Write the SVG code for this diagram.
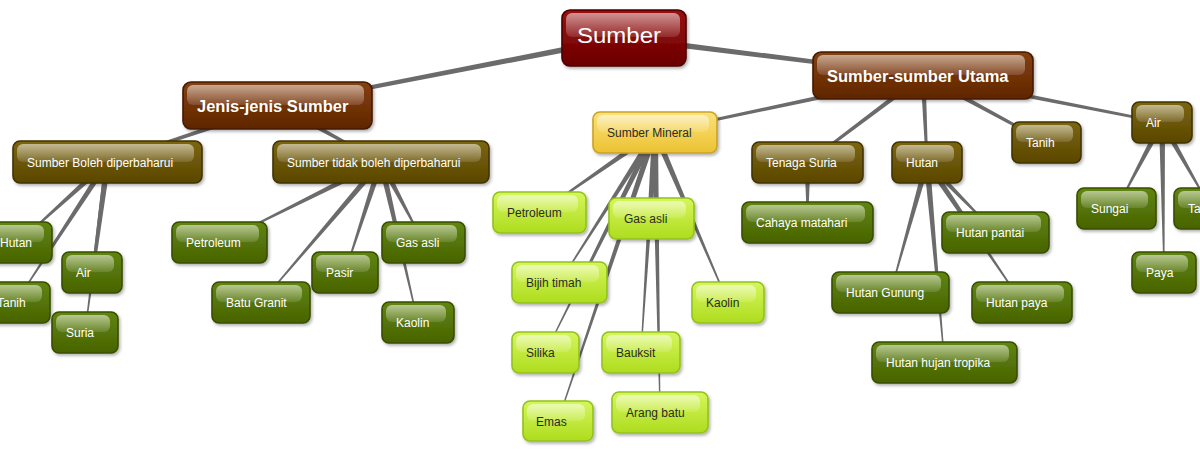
<svg xmlns="http://www.w3.org/2000/svg" width="1200" height="454" viewBox="0 0 1200 454">
<defs>
<linearGradient id="gRed" x1="0" y1="0" x2="0" y2="1"><stop offset="0" stop-color="#9a1010"/><stop offset="1" stop-color="#6a0000"/></linearGradient>
<linearGradient id="gBrown" x1="0" y1="0" x2="0" y2="1"><stop offset="0" stop-color="#86400e"/><stop offset="1" stop-color="#5f2600"/></linearGradient>
<linearGradient id="gOlive" x1="0" y1="0" x2="0" y2="1"><stop offset="0" stop-color="#7c6610"/><stop offset="1" stop-color="#5a4600"/></linearGradient>
<linearGradient id="gGreen" x1="0" y1="0" x2="0" y2="1"><stop offset="0" stop-color="#608512"/><stop offset="1" stop-color="#486300"/></linearGradient>
<linearGradient id="gLime" x1="0" y1="0" x2="0" y2="1"><stop offset="0" stop-color="#d6f65c"/><stop offset="1" stop-color="#aedc1e"/></linearGradient>
<linearGradient id="gYellow" x1="0" y1="0" x2="0" y2="1"><stop offset="0" stop-color="#fae27a"/><stop offset="1" stop-color="#ecc232"/></linearGradient>
<linearGradient id="gGloss" x1="0" y1="0" x2="0" y2="1"><stop offset="0" stop-color="#fff" stop-opacity="0.55"/><stop offset="1" stop-color="#fff" stop-opacity="0.12"/></linearGradient>
<filter id="sh" x="-10%" y="-20%" width="125%" height="150%"><feDropShadow dx="1.5" dy="2" stdDeviation="1.5" flood-color="#000" flood-opacity="0.3"/></filter>
</defs>
<style>
.node .b{stroke-width:1.6;filter:url(#sh)}
.node .g{fill:url(#gGloss)}
.node text{font-family:"Liberation Sans",Arial,sans-serif;font-size:12px;fill:#fff}
.red .b{fill:url(#gRed);stroke:#4a0000}
.brown .b{fill:url(#gBrown);stroke:#451a00}
.olive .b{fill:url(#gOlive);stroke:#423300}
.green .b{fill:url(#gGreen);stroke:#384d00}
.lime .b{fill:url(#gLime);stroke:#92c21a}
.yellow .b{fill:url(#gYellow);stroke:#c9a226}
.lime text,.yellow text{fill:#2a2a2a}
.big text{font-size:16.5px;font-weight:bold}
.top text{font-size:22px}
#connectors polygon{fill:#6b6b6b}
</style>
<rect width="1200" height="454" fill="#fff"/>
<g id="connectors">
<polygon points="623.4,35.1 277.2,103.8 277.8,107.2 624.6,40.9"/>
<polygon points="623.6,41.0 922.8,77.2 923.2,73.8 624.4,35.0"/>
<polygon points="276.7,103.1 107.1,160.8 107.9,163.2 278.3,107.9"/>
<polygon points="276.3,107.7 380.4,163.1 381.6,160.9 278.7,103.3"/>
<polygon points="922.5,73.1 654.7,131.3 655.3,133.7 923.5,77.9"/>
<polygon points="921.5,73.5 806.7,161.5 808.3,163.5 924.5,77.5"/>
<polygon points="920.5,75.6 925.8,162.6 928.2,162.4 925.5,75.4"/>
<polygon points="921.8,77.7 1045.9,143.6 1047.1,141.4 924.2,73.3"/>
<polygon points="922.5,78.0 1161.8,123.7 1162.2,121.3 923.5,73.0"/>
<polygon points="105.5,159.8 18.7,241.6 19.3,242.4 109.5,164.2"/>
<polygon points="105.0,160.4 15.6,301.7 16.4,302.3 110.0,163.6"/>
<polygon points="104.5,161.6 91.5,271.9 92.5,272.1 110.5,162.4"/>
<polygon points="104.5,161.6 84.5,331.9 85.5,332.1 110.5,162.4"/>
<polygon points="379.7,159.3 219.3,242.1 219.7,242.9 382.3,164.7"/>
<polygon points="378.7,160.1 260.6,302.2 261.4,302.8 383.3,163.9"/>
<polygon points="378.1,161.1 344.5,272.3 345.5,272.7 383.9,162.9"/>
<polygon points="378.3,163.4 423.1,242.7 423.9,242.3 383.7,160.6"/>
<polygon points="378.1,162.7 417.5,322.6 418.5,322.4 383.9,161.3"/>
<polygon points="653.3,130.0 539.2,212.1 539.8,212.9 656.7,135.0"/>
<polygon points="652.0,132.4 651.0,218.5 652.0,218.5 658.0,132.6"/>
<polygon points="652.5,130.9 559.1,282.2 559.9,282.8 657.5,134.1"/>
<polygon points="652.2,133.7 727.5,302.7 728.5,302.3 657.8,131.3"/>
<polygon points="652.3,131.2 545.1,352.3 545.9,352.7 657.7,133.8"/>
<polygon points="652.0,132.3 640.5,352.5 641.5,352.5 658.0,132.7"/>
<polygon points="652.2,131.5 557.5,420.8 558.5,421.2 657.8,133.5"/>
<polygon points="652.0,132.6 659.5,412.5 660.5,412.5 658.0,132.4"/>
<polygon points="804.5,162.5 807,222.5 808,222.5 810.5,162.5"/>
<polygon points="924.9,164.6 995.1,232.8 995.9,232.2 929.1,160.4"/>
<polygon points="924.1,161.7 890.0,292.4 891.0,292.6 929.9,163.3"/>
<polygon points="924.5,164.2 1021.6,302.8 1022.4,302.2 929.5,160.8"/>
<polygon points="924.0,162.8 944.0,362.5 945.0,362.5 930.0,162.2"/>
<polygon points="1159.3,121.1 1116.1,208.3 1116.9,208.7 1164.7,123.9"/>
<polygon points="1159.0,122.5 1163.5,272.5 1164.5,272.5 1165.0,122.5"/>
<polygon points="1159.4,124.0 1210.6,208.7 1211.4,208.3 1164.6,121.0"/>
</g>
<g id="n-sumber" class="node red top"><rect class="b" x="562" y="10" width="124" height="56" rx="8"/><rect class="g" x="566" y="13" width="114" height="24" rx="6"/><text x="577" y="43" textLength="84" lengthAdjust="spacingAndGlyphs">Sumber</text></g>
<g id="n-utama" class="node brown big"><rect class="b" x="813" y="52" width="220" height="47" rx="8"/><rect class="g" x="817" y="55" width="208" height="20" rx="6"/><text x="827" y="81.5">Sumber-sumber Utama</text></g>
<g id="n-jenis" class="node brown big"><rect class="b" x="183" y="82" width="189" height="47" rx="8"/><rect class="g" x="187" y="85" width="177" height="20" rx="6"/><text x="197" y="111.5">Jenis-jenis Sumber</text></g>
<g id="n-boleh" class="node olive"><rect class="b" x="13" y="141" width="189" height="42" rx="7"/><rect class="g" x="17" y="144" width="177" height="18" rx="6"/><text x="27" y="166.5">Sumber Boleh diperbaharui</text></g>
<g id="n-tidak" class="node olive"><rect class="b" x="273" y="141" width="216" height="42" rx="7"/><rect class="g" x="277" y="144" width="204" height="18" rx="6"/><text x="287" y="166.5">Sumber tidak boleh diperbaharui</text></g>
<g id="n-hutan1" class="node green"><rect class="b" x="-14" y="222" width="66" height="41" rx="7"/><rect class="g" x="-10" y="225" width="54" height="17" rx="6"/><text x="0" y="246.5">Hutan</text></g>
<g id="n-tanih1" class="node green"><rect class="b" x="-17" y="282" width="67" height="41" rx="7"/><rect class="g" x="-13" y="285" width="55" height="17" rx="6"/><text x="-3" y="306.5">Tanih</text></g>
<g id="n-air1" class="node green"><rect class="b" x="62" y="252" width="60" height="41" rx="7"/><rect class="g" x="66" y="255" width="48" height="17" rx="6"/><text x="76" y="276.5">Air</text></g>
<g id="n-suria" class="node green"><rect class="b" x="52" y="312" width="66" height="41" rx="7"/><rect class="g" x="56" y="315" width="54" height="17" rx="6"/><text x="66" y="336.5">Suria</text></g>
<g id="n-petroleum1" class="node green"><rect class="b" x="172" y="222" width="95" height="41" rx="7"/><rect class="g" x="176" y="225" width="83" height="17" rx="6"/><text x="186" y="246.5">Petroleum</text></g>
<g id="n-batu" class="node green"><rect class="b" x="212" y="282" width="98" height="41" rx="7"/><rect class="g" x="216" y="285" width="86" height="17" rx="6"/><text x="226" y="306.5">Batu Granit</text></g>
<g id="n-pasir" class="node green"><rect class="b" x="312" y="252" width="66" height="41" rx="7"/><rect class="g" x="316" y="255" width="54" height="17" rx="6"/><text x="326" y="276.5">Pasir</text></g>
<g id="n-gas1" class="node green"><rect class="b" x="382" y="222" width="83" height="41" rx="7"/><rect class="g" x="386" y="225" width="71" height="17" rx="6"/><text x="396" y="246.5">Gas asli</text></g>
<g id="n-kaolin1" class="node green"><rect class="b" x="382" y="302" width="72" height="41" rx="7"/><rect class="g" x="386" y="305" width="60" height="17" rx="6"/><text x="396" y="326.5">Kaolin</text></g>
<g id="n-mineral" class="node yellow"><rect class="b" x="593" y="112" width="124" height="41" rx="7"/><rect class="g" x="597" y="115" width="112" height="17" rx="6"/><text x="607" y="136.5">Sumber Mineral</text></g>
<g id="n-petroleum2" class="node lime"><rect class="b" x="493" y="192" width="93" height="41" rx="7"/><rect class="g" x="497" y="195" width="81" height="17" rx="6"/><text x="507" y="216.5">Petroleum</text></g>
<g id="n-gas2" class="node lime"><rect class="b" x="609" y="198" width="85" height="41" rx="7"/><rect class="g" x="613" y="201" width="73" height="17" rx="6"/><text x="624" y="222.5">Gas asli</text></g>
<g id="n-bijih" class="node lime"><rect class="b" x="512" y="262" width="95" height="41" rx="7"/><rect class="g" x="516" y="265" width="83" height="17" rx="6"/><text x="526" y="286.5">Bijih timah</text></g>
<g id="n-kaolin2" class="node lime"><rect class="b" x="692" y="282" width="72" height="41" rx="7"/><rect class="g" x="696" y="285" width="60" height="17" rx="6"/><text x="706" y="306.5">Kaolin</text></g>
<g id="n-silika" class="node lime"><rect class="b" x="512" y="332" width="67" height="41" rx="7"/><rect class="g" x="516" y="335" width="55" height="17" rx="6"/><text x="526" y="356.5">Silika</text></g>
<g id="n-bauksit" class="node lime"><rect class="b" x="602" y="332" width="78" height="41" rx="7"/><rect class="g" x="606" y="335" width="66" height="17" rx="6"/><text x="616" y="356.5">Bauksit</text></g>
<g id="n-emas" class="node lime"><rect class="b" x="523" y="401" width="70" height="40" rx="7"/><rect class="g" x="527" y="404" width="58" height="17" rx="6"/><text x="536" y="425.5">Emas</text></g>
<g id="n-arang" class="node lime"><rect class="b" x="612" y="392" width="96" height="41" rx="7"/><rect class="g" x="616" y="395" width="84" height="17" rx="6"/><text x="626" y="416.5">Arang batu</text></g>
<g id="n-tenaga" class="node olive"><rect class="b" x="752" y="142" width="111" height="41" rx="7"/><rect class="g" x="756" y="145" width="99" height="17" rx="6"/><text x="766" y="166.5">Tenaga Suria</text></g>
<g id="n-hutan2" class="node olive"><rect class="b" x="892" y="142" width="70" height="41" rx="7"/><rect class="g" x="896" y="145" width="58" height="17" rx="6"/><text x="906" y="166.5">Hutan</text></g>
<g id="n-tanih2" class="node olive"><rect class="b" x="1012" y="122" width="69" height="41" rx="7"/><rect class="g" x="1016" y="125" width="57" height="17" rx="6"/><text x="1026" y="146.5">Tanih</text></g>
<g id="n-air2" class="node olive"><rect class="b" x="1132" y="102" width="60" height="41" rx="7"/><rect class="g" x="1136" y="105" width="48" height="17" rx="6"/><text x="1146" y="126.5">Air</text></g>
<g id="n-cahaya" class="node green"><rect class="b" x="742" y="202" width="131" height="41" rx="7"/><rect class="g" x="746" y="205" width="119" height="17" rx="6"/><text x="756" y="226.5">Cahaya matahari</text></g>
<g id="n-pantai" class="node green"><rect class="b" x="942" y="212" width="107" height="41" rx="7"/><rect class="g" x="946" y="215" width="95" height="17" rx="6"/><text x="956" y="236.5">Hutan pantai</text></g>
<g id="n-gunung" class="node green"><rect class="b" x="832" y="272" width="117" height="41" rx="7"/><rect class="g" x="836" y="275" width="105" height="17" rx="6"/><text x="846" y="296.5">Hutan Gunung</text></g>
<g id="n-hpaya" class="node green"><rect class="b" x="972" y="282" width="100" height="41" rx="7"/><rect class="g" x="976" y="285" width="88" height="17" rx="6"/><text x="986" y="306.5">Hutan paya</text></g>
<g id="n-hujan" class="node green"><rect class="b" x="872" y="342" width="145" height="41" rx="7"/><rect class="g" x="876" y="345" width="133" height="17" rx="6"/><text x="886" y="366.5">Hutan hujan tropika</text></g>
<g id="n-sungai" class="node green"><rect class="b" x="1077" y="188" width="79" height="41" rx="7"/><rect class="g" x="1081" y="191" width="67" height="17" rx="6"/><text x="1091" y="213">Sungai</text></g>
<g id="n-paya" class="node green"><rect class="b" x="1132" y="252" width="64" height="41" rx="7"/><rect class="g" x="1136" y="255" width="52" height="17" rx="6"/><text x="1146" y="276.5">Paya</text></g>
<g id="n-tasik" class="node green"><rect class="b" x="1174" y="188" width="80" height="41" rx="7"/><rect class="g" x="1178" y="191" width="68" height="17" rx="6"/><text x="1188" y="213">Tasik</text></g>
</svg>
